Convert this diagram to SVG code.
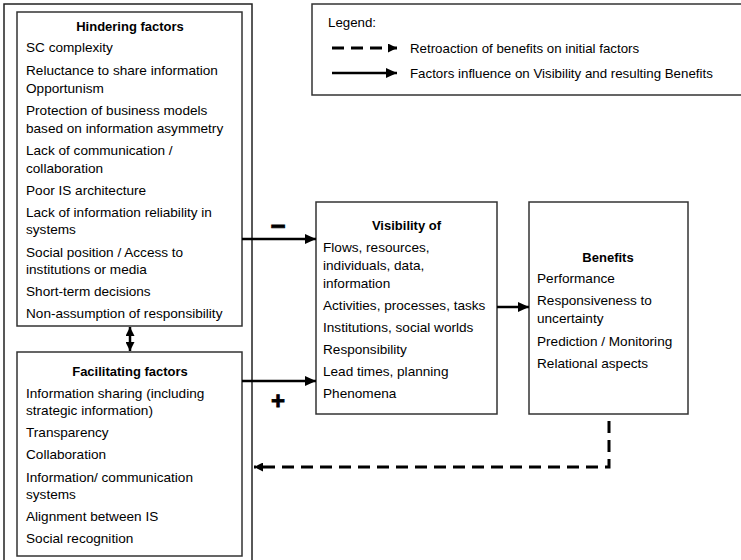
<svg xmlns="http://www.w3.org/2000/svg" width="741" height="560" viewBox="0 0 741 560">
<style>
  .box { fill: #ffffff; stroke: #333333; stroke-width: 1.5; }
  .frame { fill: none; stroke: #222222; stroke-width: 1.5; }
  .t { font-family: "Liberation Sans", Arial, sans-serif; font-size: 13.6px; fill: #000000; }
  .h { font-family: "Liberation Sans", Arial, sans-serif; font-size: 13px; font-weight: bold; fill: #000000; text-anchor: middle; }
  .lg { font-family: "Liberation Sans", Arial, sans-serif; font-size: 13.3px; fill: #000000; }
  .solid { fill: none; stroke: #000000; stroke-width: 2.5; }
  .dash { fill: none; stroke: #000000; stroke-width: 3; stroke-dasharray: 12 7; }
  .sign { font-family: "Liberation Sans", Arial, sans-serif; font-weight: bold; fill: #000000; stroke: #000000; stroke-width: 0.8; text-anchor: middle; }
</style>
<defs>
  <marker id="ah" markerUnits="userSpaceOnUse" markerWidth="12" markerHeight="10" refX="11" refY="5" orient="auto">
    <path d="M0,0 L11,5 L0,10 Z" fill="#000000"/>
  </marker>
  <marker id="ahs" markerUnits="userSpaceOnUse" markerWidth="10" markerHeight="9" refX="9" refY="4.5" orient="auto-start-reverse">
    <path d="M0,0 L9,4.5 L0,9 Z" fill="#000000"/>
  </marker>
</defs>
<rect width="741" height="560" fill="#ffffff"/>

<g id="frame">
  <rect class="frame" x="4" y="4" width="248" height="570"/>
</g>

<g id="hindering">
  <rect class="box" x="17" y="12" width="225" height="314"/>
  <text class="h" x="130" y="31">Hindering factors</text>
  <text class="t" x="26" y="52">SC complexity</text>
  <text class="t" x="26" y="75">Reluctance to share information</text>
  <text class="t" x="26" y="93">Opportunism</text>
  <text class="t" x="26" y="115">Protection of business models</text>
  <text class="t" x="26" y="133">based on information asymmetry</text>
  <text class="t" x="26" y="155">Lack of communication /</text>
  <text class="t" x="26" y="173">collaboration</text>
  <text class="t" x="26" y="195">Poor IS architecture</text>
  <text class="t" x="26" y="217">Lack of information reliability in</text>
  <text class="t" x="26" y="234">systems</text>
  <text class="t" x="26" y="257">Social position / Access to</text>
  <text class="t" x="26" y="274">institutions or media</text>
  <text class="t" x="26" y="296">Short-term decisions</text>
  <text class="t" x="26" y="318">Non-assumption of responsibility</text>
</g>

<g id="facilitating">
  <rect class="box" x="17" y="352" width="225" height="204"/>
  <text class="h" x="130" y="376">Facilitating factors</text>
  <text class="t" x="26" y="398">Information sharing (including</text>
  <text class="t" x="26" y="415">strategic information)</text>
  <text class="t" x="26" y="437">Transparency</text>
  <text class="t" x="26" y="459">Collaboration</text>
  <text class="t" x="26" y="482">Information/ communication</text>
  <text class="t" x="26" y="499">systems</text>
  <text class="t" x="26" y="521">Alignment between IS</text>
  <text class="t" x="26" y="543">Social recognition</text>
</g>

<g id="visibility">
  <rect class="box" x="316" y="202" width="181" height="212"/>
  <text class="h" x="406.5" y="230">Visibility of</text>
  <text class="t" x="323" y="252">Flows, resources,</text>
  <text class="t" x="323" y="270">individuals, data,</text>
  <text class="t" x="323" y="288">information</text>
  <text class="t" x="323" y="310">Activities, processes, tasks</text>
  <text class="t" x="323" y="332">Institutions, social worlds</text>
  <text class="t" x="323" y="354">Responsibility</text>
  <text class="t" x="323" y="376">Lead times, planning</text>
  <text class="t" x="323" y="398">Phenomena</text>
</g>

<g id="benefits">
  <rect class="box" x="529" y="202" width="159" height="212"/>
  <text class="h" x="608" y="262">Benefits</text>
  <text class="t" x="537" y="283">Performance</text>
  <text class="t" x="537" y="305">Responsiveness to</text>
  <text class="t" x="537" y="323">uncertainty</text>
  <text class="t" x="537" y="346">Prediction / Monitoring</text>
  <text class="t" x="537" y="368">Relational aspects</text>
</g>

<g id="legend">
  <rect class="box" x="312" y="4" width="432" height="91"/>
  <text class="lg" x="328" y="27">Legend:</text>
  <line class="dash" x1="332" y1="48" x2="397" y2="48" stroke-dasharray="11 8" marker-end="url(#ahs)"/>
  <text class="lg" x="410" y="53">Retroaction of benefits on initial factors</text>
  <line class="solid" x1="332" y1="73" x2="397" y2="73" marker-end="url(#ah)"/>
  <text class="lg" x="410" y="78">Factors influence on Visibility and resulting Benefits</text>
</g>

<g id="connectors">
  <line class="solid" x1="242" y1="239" x2="316" y2="239" marker-end="url(#ah)"/>
  <line class="solid" x1="242" y1="381" x2="316" y2="381" marker-end="url(#ah)"/>
  <line class="solid" x1="497" y1="307" x2="529" y2="307" marker-end="url(#ah)"/>
  <line class="solid" x1="130" y1="327" x2="130" y2="351" marker-start="url(#ahs)" marker-end="url(#ahs)"/>
  <path class="dash" d="M609,421 V467 H254" marker-end="url(#ahs)"/>
  <text class="sign" x="278" y="235" font-size="26">−</text>
  <text class="sign" x="278" y="409" font-size="24">+</text>
</g>
</svg>
